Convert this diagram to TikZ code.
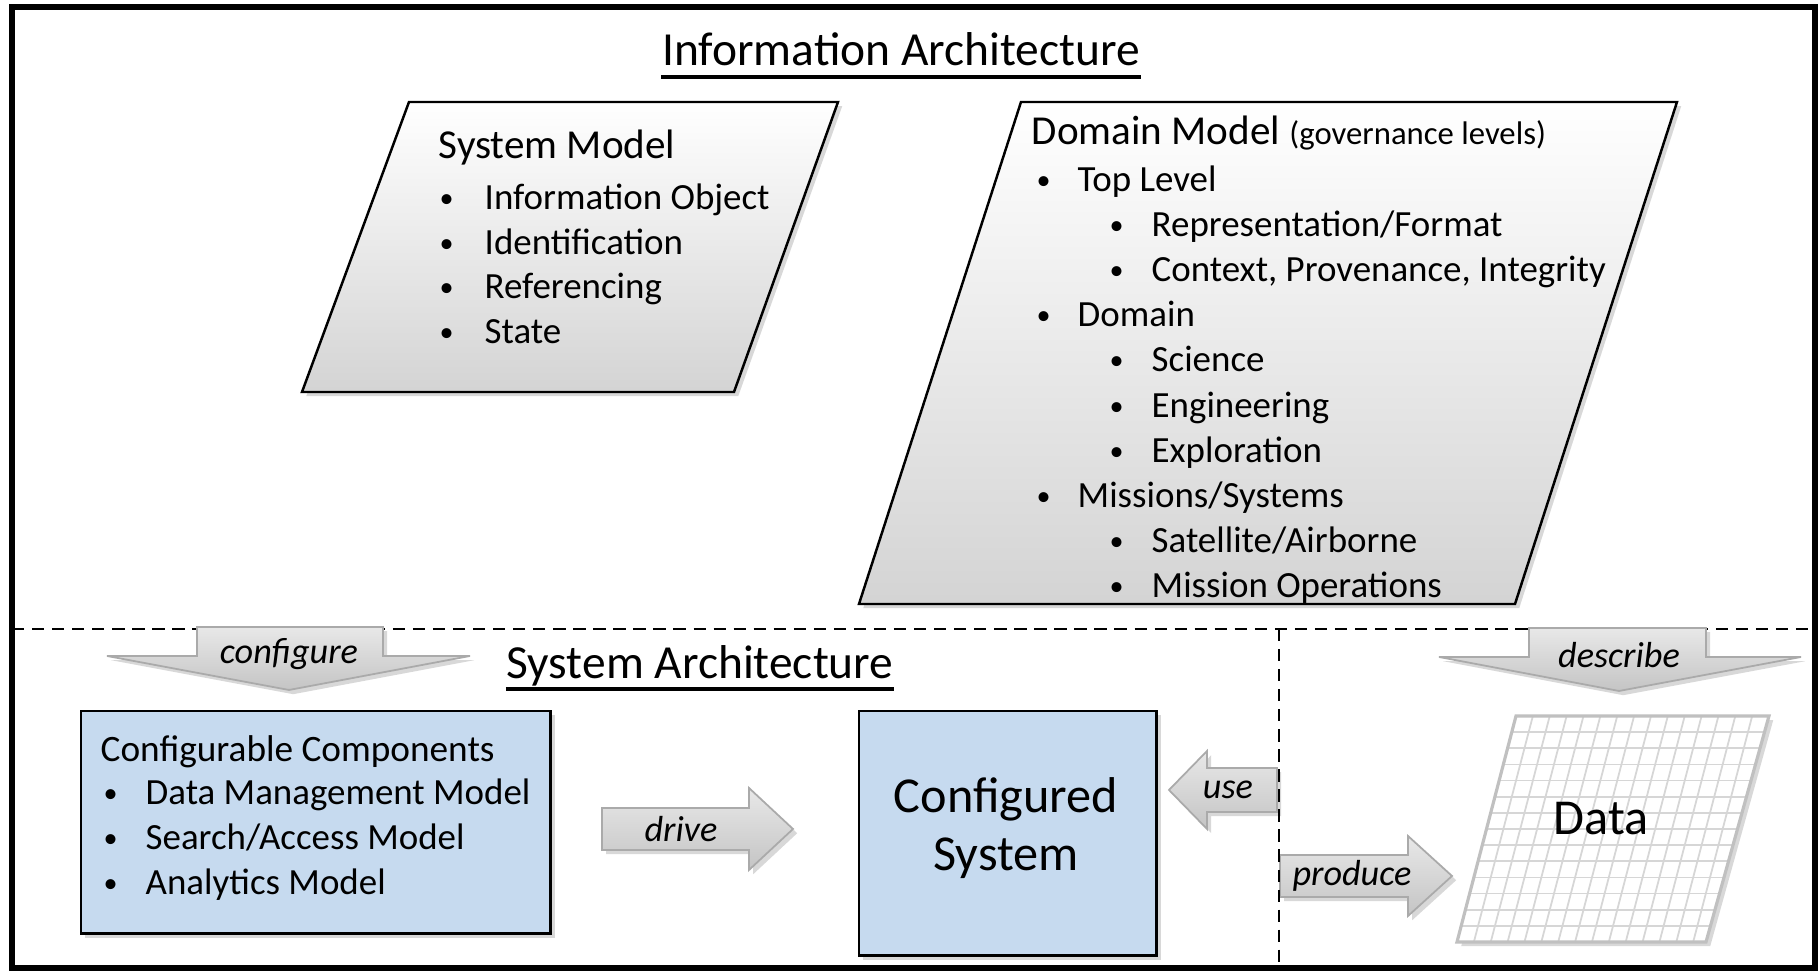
\documentclass[tikz,border=0pt]{standalone}
\usepackage{fontspec}
\setmainfont{Carlito}
\usetikzlibrary{shadows}
\definecolor{boxblue}{RGB}{198,218,239}
\definecolor{arrowedge}{RGB}{170,170,170}
\definecolor{gridgray}{RGB}{214,214,214}
\definecolor{datagray}{RGB}{192,192,192}
\newcommand{\bul}{{\fontsize{8}{10}\selectfont\raisebox{0.6pt}{•}}}
\begin{document}
\begin{tikzpicture}[x=0.01cm, y=-0.01cm,
  shd/.style={drop shadow={shadow xshift=1.2pt, shadow yshift=-1.2pt, opacity=0.3}},
  para/.style={draw=black, line width=0.7pt, top color=white, bottom color=black!17, shd},
  bluebox/.style={draw=black, line width=0.7pt, fill=boxblue, shd, inner sep=0pt},
  blockarrow/.style={draw=arrowedge, line width=0.5pt, top color=black!9, bottom color=black!23, shd},
  dline/.style={dash pattern=on 3.5pt off 2.2pt, line width=0.6pt},
  itm/.style={anchor=base west, inner sep=0pt, font=\fontsize{10.5}{12}\selectfont},
  hdr/.style={anchor=base west, inner sep=0pt, font=\fontsize{11.7}{13}\selectfont},
  ttl/.style={anchor=base, inner sep=0pt, font=\fontsize{13.5}{16}\selectfont},
  lbl/.style={inner sep=0pt, font=\fontsize{10.3}{12}\selectfont\itshape},
  big/.style={inner sep=0pt, align=center, font=\fontsize{14.3}{16.5}\selectfont}]
\useasboundingbox (0,0) rectangle (1820,971);
\fill[white] (0,0) rectangle (1820,971);

% ---------- titles
\node[ttl] (t1) at (901,66) {Information Architecture};
\coordinate (u1) at (0,77);
\draw[line width=0.9pt] (t1.west |- u1) -- (t1.east |- u1);

% ---------- System Model
\coordinate (sTL) at (409,102);
\coordinate (sTR) at (838,102);
\coordinate (sBR) at (734,392);
\coordinate (sBL) at (302,392);
\path[para] (sTL) -- (sTR) -- (sBR) -- (sBL) -- cycle;
\node[hdr] (smh) at (438,159) {System Model};
\foreach \y/\t [count=\k] in {210/{Information Object}, 254.5/{Identification}, 299/{Referencing}, 343.5/{State}}{
  \node[itm] (smb\k) at (439,\y) {\bul};
  \node[itm] (smi\k) at (484,\y) {\t};
}

% ---------- Domain Model
\coordinate (dmTL) at (1021,102);
\coordinate (dmTR) at (1677,102);
\coordinate (dmBR) at (1515,604);
\coordinate (dmBL) at (859,604);
\path[para] (dmTL) -- (dmTR) -- (dmBR) -- (dmBL) -- cycle;
\node[hdr] (dmh) at (1031,145) {Domain Model {\fontsize{9.3}{11}\selectfont (governance levels)}};
\foreach \y/\bx/\tx/\t [count=\k] in {
  192/1036/1077/{Top Level},
  237/1109/1151/{Representation/Format},
  282/1109/1151/{Context, Provenance, Integrity},
  327/1036/1077/{Domain},
  372/1109/1151/{Science},
  417.5/1109/1151/{Engineering},
  462.6/1109/1151/{Exploration},
  507.7/1036/1077/{Missions/Systems},
  552.8/1109/1151/{Satellite/Airborne},
  597.9/1109/1151/{Mission Operations}}{
  \node[itm] (dmb\k) at (\bx,\y) {\bul};
  \node[itm] (dmi\k) at (\tx,\y) {\t};
}

% ---------- dashed separator (horizontal)
\coordinate (hl) at (12,629);
\coordinate (hr) at (1815,629);
\draw[dline] (hl) -- (hr);

% ---------- System Architecture title
\node[ttl] (t2) at (700,679) {System Architecture};
\coordinate (u2) at (0,689);
\draw[line width=0.9pt] (t2.west |- u2) -- (t2.east |- u2);

% ---------- block arrows
\path[blockarrow] (197,627) -- (383,627) -- (383,656) -- (470,656) -- (289,690) -- (107,656) -- (197,656) -- cycle;
\node[lbl] (lconf) at (289,654) {configure};
\path[blockarrow] (1529,628) -- (1706,628) -- (1706,657) -- (1801,657) -- (1619,691) -- (1439,657) -- (1529,657) -- cycle;
\node[lbl] (ldesc) at (1619,655) {describe};

% ---------- boxes
\node[bluebox, anchor=north west, minimum width=4.69cm, minimum height=2.22cm] (cc) at (80,710) {};
\node[hdr, font=\fontsize{10.6}{12}\selectfont] (cch) at (100,762) {Configurable Components};
\foreach \y/\t [count=\k] in {805/{Data Management Model}, 850/{Search/Access Model}, 895/{Analytics Model}}{
  \node[itm] (ccb\k) at (103,\y) {\bul};
  \node[itm] (cci\k) at (145,\y) {\t};
}
\node[bluebox, anchor=north west, minimum width=2.97cm, minimum height=2.44cm] (cs) at (858,710) {};
\node[big] (cst) at (1006,828) {Configured\\System};

% ---------- drive / use / produce
\path[blockarrow] (602,808) -- (749,808) -- (749,788) -- (793,829) -- (749,870) -- (749,850) -- (602,850) -- cycle;
\node[lbl] (ldrive) at (681,829) {drive};
\path[blockarrow] (1277,768) -- (1207,768) -- (1207,751) -- (1169,790) -- (1207,829) -- (1207,812) -- (1277,812) -- cycle;
\node[lbl] (luse) at (1228,790) {use};
\path[blockarrow] (1280,855) -- (1408,855) -- (1408,836) -- (1452,876) -- (1408,916) -- (1408,897) -- (1280,897) -- cycle;
\node[lbl] (lprod) at (1352,876) {produce};

% ---------- dashed separator (vertical)
\coordinate (vt) at (1279,629);
\coordinate (vb) at (1279,968);
\draw[dline] (vt) -- (vb);

% ---------- Data
\coordinate (dTL) at (1516,716);
\coordinate (dTR) at (1769,716);
\coordinate (dBR) at (1706,942);
\coordinate (dBL) at (1457,942);
\path[fill=white, shd] (dTL) -- (dTR) -- (dBR) -- (dBL) -- cycle;
\begin{scope}
  \clip (dTL) -- (dTR) -- (dBR) -- (dBL) -- cycle;
  \foreach \i in {1,...,14}{
    \draw[gridgray, line width=0.5pt] (1516+\i*16.87,716) -- (1457+\i*16.87,942);
  }
  \foreach \j in {1,...,13}{
    \draw[gridgray, line width=0.5pt] (1400,716+\j*16.14) -- (1800,716+\j*16.14);
  }
\end{scope}
\draw[datagray, line width=0.9pt] (dTL) -- (dTR) -- (dBR) -- (dBL) -- cycle;
\node[big] (data) at (1601,819) {Data};

% ---------- outer frame
\draw[line width=1.6pt] (12,7) rectangle (1815,968);
\end{tikzpicture}
\end{document}
